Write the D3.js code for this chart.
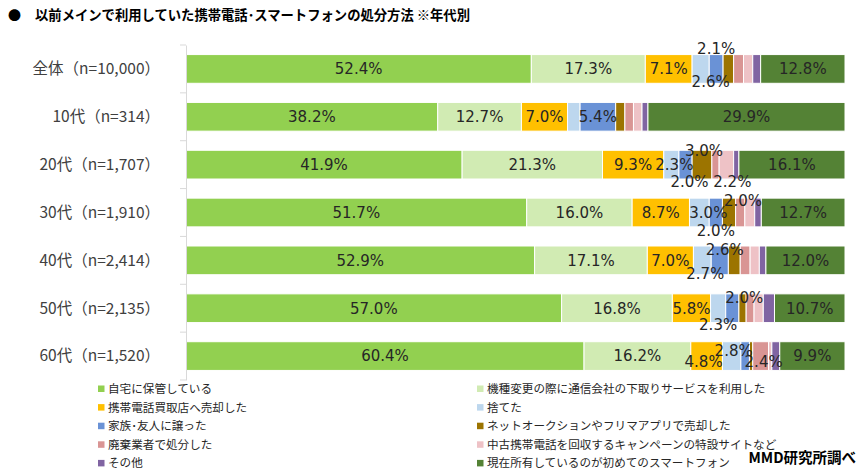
<!DOCTYPE html>
<html><head><meta charset="utf-8">
<script src="https://cdn.jsdelivr.net/npm/d3@7"></script>
<style>
html,body{margin:0;padding:0;background:#fff;}
svg{display:block;}
</style></head>
<body>
<svg id="chart" width="866" height="473"></svg>
<script>
const title = "以前メインで利用していた携帯電話･スマートフォンの処分方法 ※年代別";
const source = "MMD研究所調べ";
const categories = ["全体（n=10,000）","10代（n=314）","20代（n=1,707）","30代（n=1,910）","40代（n=2,414）","50代（n=2,135）","60代（n=1,520）"];
const seriesNames = ["自宅に保管している","機種変更の際に通信会社の下取りサービスを利用した","携帯電話買取店へ売却した","捨てた","家族･友人に譲った","ネットオークションやフリマアプリで売却した","廃棄業者で処分した","中古携帯電話を回収するキャンペーンの特設サイトなど","その他","現在所有しているのが初めてのスマートフォン"];
const colors = ["#92D050","#D1EBB3","#FFC000","#BDD7EE","#6A92D6","#9C7400","#D99594","#EEC2C6","#8064A2","#548235"];
const s0 = [52.4, 38.2, 41.9, 51.7, 52.9, 57.0, 60.4];
const s1 = [17.3, 12.7, 21.3, 16.0, 17.1, 16.8, 16.2];
const s2 = [7.1, 7.0, 9.3, 8.7, 7.0, 5.8, 4.8];
const s3 = [2.6, 1.9, 2.3, 3.0, 2.7, 2.3, 2.8];
const s4 = [2.1, 5.4, 2.0, 2.0, 2.6, 2.0, 1.3];
const s5 = [1.6, 1.4, 3.0, 2.0, 1.8, 1.1, 0.5];
const s6 = [1.5, 1.3, 1.1, 1.4, 1.5, 1.2, 2.4];
const s7 = [1.4, 1.3, 2.2, 1.5, 1.4, 1.4, 0.5];
const s8 = [1.2, 0.9, 0.8, 1.0, 1.0, 1.7, 1.2];
const s9 = [12.8, 29.9, 16.1, 12.7, 12.0, 10.7, 9.9];
const seriesValues = [s0,s1,s2,s3,s4,s5,s6,s7,s8,s9];

// label nudges (layout only): key "row|series" -> [dx, dy]
const labelNudge = {
  "0|3":[10,13], "0|4":[0,-20],
  "2|3":[3,0], "2|4":[4,17], "2|5":[2,-14], "2|7":[6,17],
  "3|3":[9,0], "3|4":[0,18], "3|5":[14,-12],
  "4|3":[3,13], "4|4":[5,-11],
  "5|3":[0,16], "5|4":[12,-11],
  "6|2":[-3,6], "6|3":[2,-5], "6|6":[3,6]
};

const svg = d3.select("#chart");
const x = d3.scaleLinear().domain([0,100]).range([186,845]);
const y = d3.scaleBand().domain(categories).range([45,380]).paddingInner(0.4).paddingOuter(0.2);

// title
svg.append("text").attr("x",8).attr("y",20).attr("font-family","'Noto Sans CJK JP'")
  .attr("font-size",13).attr("fill","#000").text("●");
svg.append("text").attr("x",35).attr("y",20).attr("font-family","'Noto Sans CJK JP'")
  .attr("font-size",14).attr("font-weight","bold").attr("fill","#000")
  .attr("textLength",435).attr("lengthAdjust","spacingAndGlyphs").text(title);

// stack
const rows = categories.map((c,i)=>{ const o={cat:c,i}; seriesValues.forEach((s,j)=>o["k"+j]=s[i]); return o;});
const keys = seriesValues.map((s,j)=>"k"+j);
const stacked = d3.stack().keys(keys)(rows);

const g = svg.append("g");
stacked.forEach((layer,j)=>{
  g.selectAll(null).data(layer).enter().append("rect")
    .attr("x",d=>x(d[0])).attr("width",d=>x(d[1])-x(d[0]))
    .attr("y",d=>y(d.data.cat)).attr("height",y.bandwidth())
    .attr("fill",colors[j]).attr("stroke","#fff").attr("stroke-width",1);
});

// axis
const axis = d3.axisLeft(y).tickSize(0).tickPadding(0).tickFormat("");
const ag = svg.append("g").attr("transform","translate(186,0)").call(axis);
ag.select(".domain").attr("stroke","#D9D9D9");
// boundary ticks
const bounds = categories.map(c=>y(c)-y.step()*y.paddingInner()/2).concat([380]);
bounds[0]=45;
ag.selectAll(".bt").data(bounds).enter().append("line").attr("class","bt")
  .attr("x1",-6).attr("x2",0).attr("y1",d=>d).attr("y2",d=>d).attr("stroke","#D9D9D9");
// category labels
svg.selectAll(".cat").data(categories).enter().append("text")
  .attr("x",160).attr("y",d=>y(d)+y.bandwidth()/2).attr("dy","0.35em")
  .attr("text-anchor","end").attr("font-family","'Noto Sans CJK JP'").attr("font-size",15.5)
  .attr("fill","#404040").text(d=>d);

// value labels
stacked.forEach((layer,j)=>{
  layer.forEach((d,i)=>{
    if (seriesValues[j][i] < 2.0) return;
    const nudge = labelNudge[i+"|"+j] || [0,0];
    svg.append("text")
      .attr("x",(x(d[0])+x(d[1]))/2 + nudge[0])
      .attr("y",y(d.data.cat)+y.bandwidth()/2 + nudge[1])
      .attr("dy","0.36em").attr("text-anchor","middle")
      .attr("font-family","'DejaVu Sans'").attr("font-size",15)
      .attr("fill","#262626").text(seriesValues[j][i].toFixed(1)+"%");
  });
});

// legend
const lg = svg.append("g");
seriesNames.forEach((n,j)=>{
  const col = j%2, row = Math.floor(j/2);
  const lx = col===0 ? 98 : 477;
  const ly = 389 + row*18.6;
  lg.append("rect").attr("x",lx).attr("y",ly-3.5).attr("width",6.5).attr("height",6.5).attr("fill",colors[j]);
  lg.append("text").attr("x",lx+10).attr("y",ly).attr("dy","0.35em")
    .attr("font-family","'Noto Sans CJK JP'").attr("font-size",11.6).attr("fill","#262626").text(n);
});

svg.append("text").attr("x",856).attr("y",458).attr("dy","0.35em").attr("text-anchor","end")
  .attr("font-family","'Noto Sans CJK JP'").attr("font-size",14.5).attr("font-weight","bold")
  .attr("fill","#000").text(source);
</script>
</body></html>
